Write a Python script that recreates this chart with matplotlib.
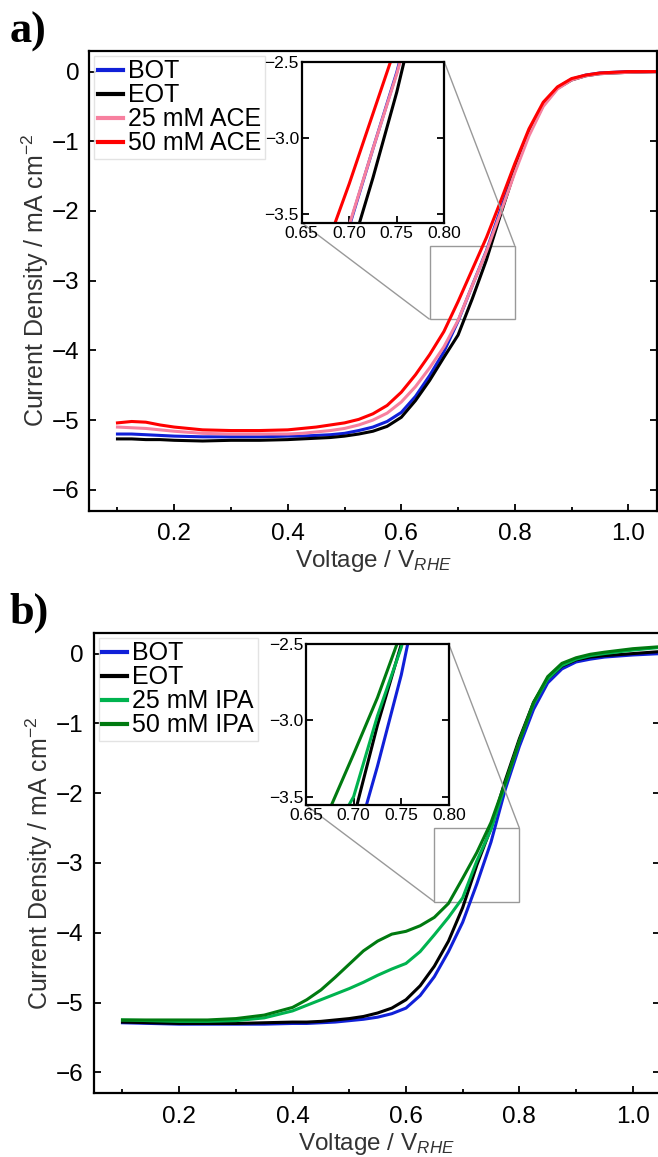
import matplotlib
matplotlib.use('Agg')
import matplotlib.pyplot as plt
from matplotlib.ticker import MultipleLocator
from mpl_toolkits.axes_grid1.inset_locator import mark_inset

plt.rcParams['font.family'] = ['Liberation Sans', 'DejaVu Sans']
plt.rcParams['mathtext.fontset'] = 'custom'
plt.rcParams['mathtext.rm'] = 'Liberation Sans'
plt.rcParams['mathtext.it'] = 'Liberation Sans:italic'
plt.rcParams['mathtext.bf'] = 'Liberation Sans:bold'

# ---- panel a: acetone ----
volt_a = [0.10, 0.125, 0.15, 0.175, 0.20, 0.25, 0.30, 0.35, 0.40, 0.425, 0.45, 0.475,
          0.50, 0.525, 0.55, 0.575, 0.60, 0.625, 0.65, 0.675, 0.70, 0.725, 0.75,
          0.775, 0.80, 0.825, 0.85, 0.875, 0.90, 0.925, 0.95, 1.00, 1.05]
bot_a = [-5.20, -5.20, -5.21, -5.22, -5.23, -5.24, -5.24, -5.24, -5.23, -5.23, -5.22, -5.21,
         -5.19, -5.15, -5.10, -5.02, -4.89, -4.66, -4.36, -4.02, -3.58, -3.07, -2.57,
         -1.98, -1.40, -0.87, -0.47, -0.23, -0.11, -0.05, -0.02, 0.00, 0.00]
eot_a = [-5.27, -5.27, -5.28, -5.28, -5.29, -5.30, -5.29, -5.29, -5.28, -5.27, -5.26, -5.25,
         -5.23, -5.20, -5.16, -5.09, -4.96, -4.72, -4.43, -4.10, -3.78, -3.26, -2.70,
         -2.05, -1.42, -0.88, -0.48, -0.24, -0.12, -0.06, -0.03, -0.01, 0.00]
ace25 = [-5.10, -5.11, -5.12, -5.14, -5.16, -5.19, -5.20, -5.20, -5.20, -5.19, -5.17, -5.15,
         -5.12, -5.07, -5.00, -4.90, -4.74, -4.52, -4.25, -3.95, -3.57, -3.07, -2.58,
         -2.02, -1.45, -0.92, -0.50, -0.25, -0.12, -0.06, -0.03, -0.01, 0.00]
ace50 = [-5.04, -5.02, -5.03, -5.07, -5.10, -5.14, -5.15, -5.15, -5.14, -5.12, -5.10, -5.07,
         -5.04, -4.99, -4.91, -4.79, -4.60, -4.35, -4.06, -3.73, -3.30, -2.84, -2.38,
         -1.86, -1.32, -0.82, -0.44, -0.22, -0.10, -0.05, -0.02, 0.00, 0.00]
labels_a = ['BOT', 'EOT', '25 mM ACE', '50 mM ACE']
colors_a = ['#1020d8', 'black', '#f7809f', '#ff0000']

# ---- panel b: isopropanol ----
volt_b = [0.10, 0.15, 0.20, 0.25, 0.30, 0.35, 0.40, 0.425, 0.45, 0.475, 0.50, 0.525,
          0.55, 0.575, 0.60, 0.625, 0.65, 0.675, 0.70, 0.725, 0.75, 0.775, 0.80,
          0.825, 0.85, 0.875, 0.90, 0.925, 0.95, 1.00, 1.05]
bot_b = [-5.29, -5.30, -5.31, -5.31, -5.31, -5.31, -5.30, -5.30, -5.29, -5.28, -5.26, -5.24,
         -5.21, -5.16, -5.08, -4.90, -4.63, -4.27, -3.85, -3.30, -2.70, -1.95, -1.33,
         -0.80, -0.42, -0.22, -0.12, -0.08, -0.05, -0.02, 0.00]
eot_b = [-5.28, -5.29, -5.30, -5.30, -5.30, -5.29, -5.28, -5.28, -5.27, -5.25, -5.23, -5.20,
         -5.15, -5.08, -4.96, -4.76, -4.48, -4.12, -3.64, -3.03, -2.50, -1.82, -1.22,
         -0.70, -0.36, -0.18, -0.09, -0.05, -0.03, 0.00, 0.03]
ipa25 = [-5.25, -5.26, -5.27, -5.27, -5.26, -5.22, -5.12, -5.04, -4.96, -4.88, -4.80, -4.71,
         -4.61, -4.52, -4.44, -4.27, -4.03, -3.78, -3.50, -2.97, -2.52, -1.88, -1.26,
         -0.72, -0.36, -0.17, -0.08, -0.03, 0.00, 0.05, 0.09]
ipa50 = [-5.25, -5.25, -5.25, -5.25, -5.23, -5.18, -5.07, -4.96, -4.82, -4.64, -4.45, -4.26,
         -4.12, -4.02, -3.98, -3.90, -3.78, -3.58, -3.22, -2.85, -2.42, -1.85, -1.25,
         -0.70, -0.33, -0.14, -0.06, -0.01, 0.02, 0.07, 0.10]
labels_b = ['BOT', 'EOT', '25 mM IPA', '50 mM IPA']
colors_b = ['#1020d8', 'black', '#00b34f', '#007a10']


def style_axis(ax, size):
    ax.tick_params(which='both', direction='in', right=True, top=False,
                   labelsize=size, width=1.3)
    ax.tick_params(which='major', length=5)
    ax.tick_params(which='minor', length=3)
    for s in ax.spines.values():
        s.set_linewidth(1.6)


def draw_panel(fig, rect, inrect, x, series, labels, colors, xlim, tag, tagy):
    ax = fig.add_axes(rect)
    for y, lab, c in zip(series, labels, colors):
        ax.plot(x, y, color=c, lw=2.2, label=lab)
    ax.set_xlim(*xlim)
    ax.set_ylim(-6.3, 0.3)
    ax.xaxis.set_major_locator(MultipleLocator(0.2))
    ax.xaxis.set_minor_locator(MultipleLocator(0.1))
    ax.yaxis.set_major_locator(MultipleLocator(1))
    style_axis(ax, 17.5)
    ax.tick_params(axis='x', pad=9)
    ax.tick_params(axis='y', pad=7)
    ax.tick_params(axis='y', which='minor', left=False, right=False)
    ax.set_xlabel('Voltage / V$_{\\mathit{RHE}}$', fontsize=17.5, color='#333333', labelpad=2)
    ax.set_ylabel('Current Density / mA cm$^{-2}$', fontsize=18, color='#333333', labelpad=1)
    leg = ax.legend(loc='upper left', fontsize=18, handlelength=1.0, handletextpad=0.2,
                    labelspacing=0.0, borderpad=0.15, borderaxespad=0.2, fancybox=False)
    leg.get_frame().set_edgecolor('#dddddd')
    for h in leg.get_lines():
        h.set_linewidth(3)

    axins = fig.add_axes(inrect)
    for y, c in zip(series, colors):
        axins.plot(x, y, color=c, lw=2.2)
    axins.set_xlim(0.65, 0.80)
    axins.set_ylim(-3.555, -2.5)
    axins.xaxis.set_major_locator(MultipleLocator(0.05))
    axins.yaxis.set_major_locator(MultipleLocator(0.5))
    style_axis(axins, 12.5)
    axins.tick_params(pad=2)
    mark_inset(ax, axins, loc1=1, loc2=3, fc='none', ec='#999999', lw=1)

    fig.text(0.015, tagy, tag, fontsize=32, fontweight='bold',
             family='Liberation Serif', va='baseline')
    return ax


fig = plt.figure(figsize=(6.58, 11.57), dpi=100)

draw_panel(fig, [0.1359, 0.5586, 0.8622, 0.3976], [0.4585, 0.8075, 0.2167, 0.1392],
           volt_a, [bot_a, eot_a, ace25, ace50], labels_a, colors_a,
           (0.0506, 1.050), 'a)', 0.963)
draw_panel(fig, [0.1422, 0.0551, 0.8608, 0.3981], [0.4650, 0.3042, 0.2173, 0.1389],
           volt_b, [bot_b, eot_b, ipa25, ipa50], labels_b, colors_b,
           (0.049, 1.048), 'b)', 0.461)

fig.savefig('out.png', dpi=100)
